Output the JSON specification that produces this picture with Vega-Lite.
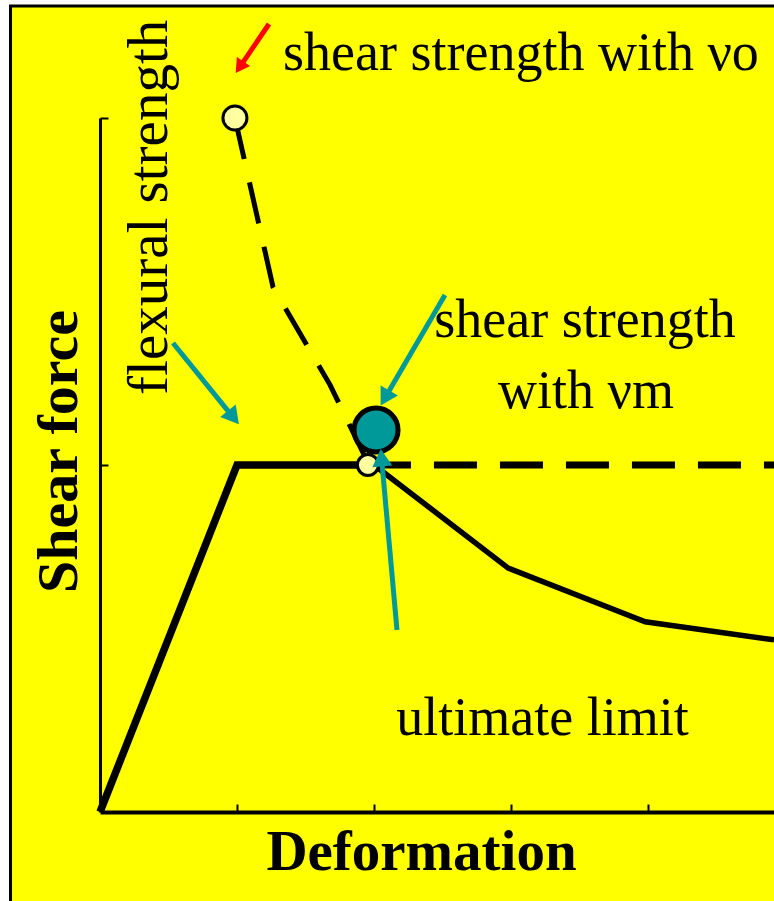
{
  "$schema": "https://vega.github.io/schema/vega-lite/v6.json",
  "width": 674,
  "height": 694,
  "autosize": "none",
  "padding": {"left": 100, "top": 118, "right": 0, "bottom": 89},
  "background": "white",
  "config": {
    "view": {"stroke": null},
    "axis": {
      "grid": false,
      "labels": false,
      "domainColor": "black",
      "tickColor": "black",
      "tickWidth": 2,
      "tickSize": -8,
      "titleFont": "Liberation Serif",
      "titleFontWeight": "bold",
      "titleColor": "black"
    },
    "text": {"font": "Liberation Serif", "fontSize": 54, "color": "black"}
  },
  "datasets": {
    "capacity": [
      {"d": 0, "v": 0},
      {"d": 1, "v": 1},
      {"d": 1.99, "v": 1}
    ],
    "postpeak": [
      {"d": 2.0, "v": 1.0},
      {"d": 2.98, "v": 0.703},
      {"d": 3.98, "v": 0.548},
      {"d": 4.92, "v": 0.496}
    ],
    "flexural": [
      {"d": 1.956, "v": 1},
      {"d": 4.92, "v": 1}
    ],
    "shearVo": [
      {"d": 0.985, "v": 2.0},
      {"d": 1.263, "v": 1.513},
      {"d": 1.679, "v": 1.231},
      {"d": 1.956, "v": 1.006}
    ],
    "arrows": [
      {"arrow": "vo", "x": 1.2336, "y": 2.2709, "hx": 1.0285, "hy": 2.1519},
      {"arrow": "flexural", "x": 0.5328, "y": 1.3516, "hx": 0.9606, "hy": 1.1432},
      {"arrow": "vm", "x": 2.5182, "y": 1.4899, "hx": 2.0905, "hy": 1.2003},
      {"arrow": "ultimate", "x": 2.1679, "y": 0.5245, "hx": 2.0569, "hy": 1.0127}
    ]
  },
  "layer": [
    {
      "data": {"values": [{"panel": "frame"}]},
      "mark": {"type": "rect", "fill": "#FFFF00", "stroke": "black", "strokeWidth": 3, "clip": false},
      "encoding": {
        "x": {"datum": -0.6533, "type": "quantitative",
          "scale": {"domain": [0, 4.92], "nice": false, "zero": false},
          "axis": {"values": [1, 2, 3, 4], "title": "Deformation", "titleFontSize": 57, "titlePadding": 11, "titleX": 321, "domainWidth": 4, "zindex": 1}},
        "x2": {"datum": 6},
        "y": {"datum": 2.3228, "type": "quantitative",
          "scale": {"domain": [0, 2], "nice": false, "zero": false},
          "axis": {"values": [1, 2], "title": "Shear force", "titleFontSize": 58, "titlePadding": 11, "titleY": 333, "domainWidth": 3, "zindex": 1}},
        "y2": {"datum": -1}
      }
    },
    {
      "data": {"name": "capacity"},
      "mark": {"type": "line", "color": "black", "strokeWidth": 7.5, "strokeJoin": "miter", "strokeCap": "butt"},
      "encoding": {"x": {"field": "d", "type": "quantitative"}, "y": {"field": "v", "type": "quantitative"}}
    },
    {
      "data": {"name": "postpeak"},
      "mark": {"type": "line", "color": "black", "strokeWidth": 5.5, "strokeJoin": "miter"},
      "encoding": {"x": {"field": "d", "type": "quantitative"}, "y": {"field": "v", "type": "quantitative"}}
    },
    {
      "data": {"name": "flexural"},
      "mark": {"type": "line", "color": "black", "strokeWidth": 7, "strokeDash": [43, 23], "strokeCap": "butt"},
      "encoding": {"x": {"field": "d", "type": "quantitative"}, "y": {"field": "v", "type": "quantitative"}}
    },
    {
      "data": {"name": "shearVo"},
      "mark": {"type": "line", "color": "black", "strokeWidth": 5, "strokeDash": [42, 24], "strokeCap": "butt", "clip": false},
      "encoding": {"x": {"field": "d", "type": "quantitative"}, "y": {"field": "v", "type": "quantitative"}}
    },
    {
      "data": {"values": [{"d": 0.985, "v": 2.0, "kind": "vo"}]},
      "mark": {"type": "point", "shape": "circle", "filled": true, "fill": "#FFFFA0", "stroke": "black", "strokeWidth": 3, "opacity": 1, "size": 576, "clip": false},
      "encoding": {"x": {"field": "d", "type": "quantitative"}, "y": {"field": "v", "type": "quantitative"}}
    },
    {
      "data": {"values": [{"d": 1.956, "v": 1.0, "kind": "peak"}]},
      "mark": {"type": "point", "shape": "circle", "filled": true, "fill": "#FFFFA0", "stroke": "black", "strokeWidth": 3, "opacity": 1, "size": 441},
      "encoding": {"x": {"field": "d", "type": "quantitative"}, "y": {"field": "v", "type": "quantitative"}}
    },
    {
      "data": {"values": [{"d": 2.015, "v": 1.101, "kind": "vm"}]},
      "mark": {"type": "point", "shape": "circle", "filled": true, "fill": "#009999", "stroke": "black", "strokeWidth": 5, "opacity": 1, "size": 1936},
      "encoding": {"x": {"field": "d", "type": "quantitative"}, "y": {"field": "v", "type": "quantitative"}}
    },
    {
      "data": {"name": "arrows"},
      "mark": {"type": "rule", "strokeWidth": 5, "strokeCap": "butt", "clip": false},
      "encoding": {
        "x": {"field": "x", "type": "quantitative"},
        "y": {"field": "y", "type": "quantitative"},
        "x2": {"field": "hx"},
        "y2": {"field": "hy"},
        "color": {"field": "arrow", "type": "nominal", "legend": null,
          "scale": {"domain": ["vo", "flexural", "vm", "ultimate"], "range": ["#FF0000", "#009999", "#009999", "#009999"]}}
      }
    },
    {
      "data": {"name": "arrows"},
      "transform": [{"filter": "datum.arrow === 'vo'"}],
      "mark": {"type": "point", "shape": "triangle", "filled": true, "opacity": 1, "color": "#FF0000", "size": 256, "angle": 214, "clip": false},
      "encoding": {"x": {"field": "hx", "type": "quantitative"}, "y": {"field": "hy", "type": "quantitative"}}
    },
    {
      "data": {"name": "arrows"},
      "transform": [{"filter": "datum.arrow === 'flexural'"}],
      "mark": {"type": "point", "shape": "triangle", "filled": true, "opacity": 1, "color": "#009999", "size": 400, "angle": 141},
      "encoding": {"x": {"field": "hx", "type": "quantitative"}, "y": {"field": "hy", "type": "quantitative"}}
    },
    {
      "data": {"name": "arrows"},
      "transform": [{"filter": "datum.arrow === 'vm'"}],
      "mark": {"type": "point", "shape": "triangle", "filled": true, "opacity": 1, "color": "#009999", "size": 400, "angle": 210},
      "encoding": {"x": {"field": "hx", "type": "quantitative"}, "y": {"field": "hy", "type": "quantitative"}}
    },
    {
      "data": {"name": "arrows"},
      "transform": [{"filter": "datum.arrow === 'ultimate'"}],
      "mark": {"type": "point", "shape": "triangle", "filled": true, "opacity": 1, "color": "#009999", "size": 400, "angle": 355},
      "encoding": {"x": {"field": "hx", "type": "quantitative"}, "y": {"field": "hy", "type": "quantitative"}}
    },
    {
      "data": {"values": [
        {"d": 1.336, "v": 2.138, "label": "shear strength with νo"}
      ]},
      "mark": {"type": "text", "align": "left", "baseline": "alphabetic", "clip": false},
      "encoding": {"x": {"field": "d", "type": "quantitative"}, "y": {"field": "v", "type": "quantitative"}, "text": {"field": "label"}}
    },
    {
      "data": {"values": [
        {"d": 3.540, "v": 1.369, "label": "shear strength"},
        {"d": 3.547, "v": 1.164, "label": "with νm"},
        {"d": 3.230, "v": 0.222, "label": "ultimate limit"}
      ]},
      "mark": {"type": "text", "align": "center", "baseline": "alphabetic"},
      "encoding": {"x": {"field": "d", "type": "quantitative"}, "y": {"field": "v", "type": "quantitative"}, "text": {"field": "label"}}
    },
    {
      "data": {"values": [
        {"d": 0.489, "v": 1.202, "label": "flexural strength"}
      ]},
      "mark": {"type": "text", "align": "left", "baseline": "alphabetic", "angle": 270, "fontSize": 57, "clip": false},
      "encoding": {"x": {"field": "d", "type": "quantitative"}, "y": {"field": "v", "type": "quantitative"}, "text": {"field": "label"}}
    }
  ]
}
